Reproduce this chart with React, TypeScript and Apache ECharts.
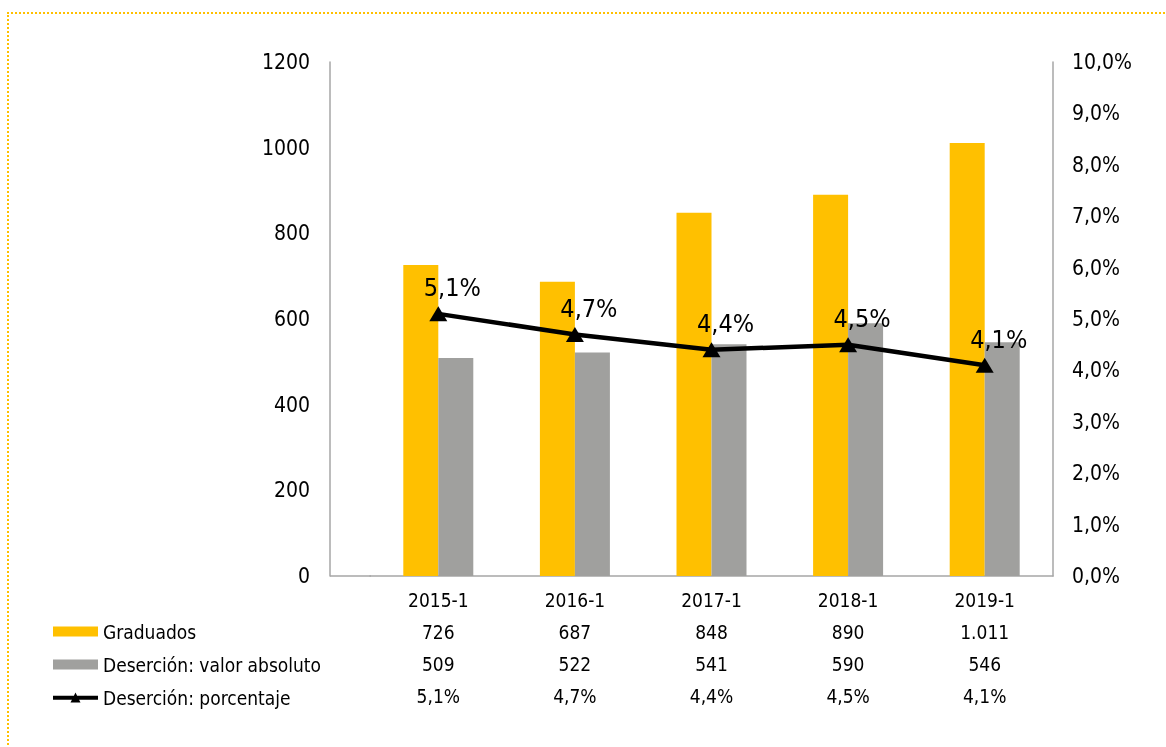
import React, { useEffect, useRef } from "react";
import * as echarts from "echarts";

const categories = ["2015-1", "2016-1", "2017-1", "2018-1", "2019-1"];
const graduados = [726, 687, 848, 890, 1011];
const desercionAbs = [509, 522, 541, 590, 546];
const desercionPct = [5.1, 4.7, 4.4, 4.5, 4.1];

const seriesNames = ["Graduados", "Deserción: valor absoluto", "Deserción: porcentaje"];

const FONT = "'Liberation Sans Narrow', 'DejaVu Sans Condensed', 'Noto Sans', sans-serif";

const LINE_ICON =
  "path://M0,4.5H29.25L31.5,0L33.75,4.5H63V10H36.5L38.5,14H24.5L26.5,10H0Z";

const fmtInt = (n: number) =>
  n >= 1000 ? `${Math.floor(n / 1000)}.${String(n % 1000).padStart(3, "0")}` : String(n);
const fmtPct = (v: number) => `${v.toFixed(1).replace(".", ",")}%`;

export default function App() {
  const ref = useRef<HTMLDivElement>(null);

  useEffect(() => {
    if (!ref.current) return;
    const chart = echarts.init(ref.current, undefined, { renderer: "svg" });
    chart.setOption({
      animation: false,
      backgroundColor: "transparent",
      textStyle: { fontFamily: FONT, color: "#000" },
      grid: { left: 370, right: 113, top: 62, bottom: 171 },
      legend: {
        orient: "vertical",
        left: 48,
        top: 616,
        itemWidth: 45,
        itemHeight: 10,
        itemGap: 12,
        data: [
          { name: seriesNames[0], icon: "rect" },
          { name: seriesNames[1], icon: "rect" },
          { name: seriesNames[2], icon: LINE_ICON, itemStyle: { color: "#000" } },
        ],
        textStyle: { fontFamily: FONT, fontSize: 19, color: "#000", lineHeight: 21 },
      },
      graphic: [
        {
          type: "line",
          shape: { x1: 330, y1: 576, x2: 371, y2: 576 },
          style: { stroke: "#a6a6a6", lineWidth: 1.5 },
          silent: true,
        },
      ],
      xAxis: {
        type: "category",
        data: categories,
        axisLine: { lineStyle: { color: "#a6a6a6", width: 1.5 } },
        axisTick: { show: false },
        axisLabel: {
          margin: 8,
          interval: 0,
          fontFamily: FONT,
          fontSize: 19,
          color: "#000",
          lineHeight: 32,
          formatter: (value: string, idx: number) =>
            `${value}\n${fmtInt(graduados[idx])}\n${fmtInt(desercionAbs[idx])}\n${fmtPct(desercionPct[idx])}`,
        },
      },
      yAxis: [
        {
          type: "value",
          min: 0,
          max: 1200,
          interval: 200,
          offset: 40,
          axisLine: { show: true, lineStyle: { color: "#a6a6a6", width: 1.5 } },
          axisTick: { show: false },
          splitLine: { show: false },
          axisLabel: {
            margin: 20,
            fontFamily: FONT,
            fontSize: 21,
            color: "#000",
            formatter: (v: number) => String(v),
          },
        },
        {
          type: "value",
          min: 0,
          max: 10,
          interval: 1,
          position: "right",
          axisLine: { show: true, lineStyle: { color: "#a6a6a6", width: 1.5 } },
          axisTick: { show: false },
          splitLine: { show: false },
          axisLabel: {
            margin: 19,
            fontFamily: FONT,
            fontSize: 21,
            color: "#000",
            formatter: (v: number) => fmtPct(v),
          },
        },
      ],
      series: [
        {
          name: seriesNames[0],
          type: "bar",
          data: graduados,
          barWidth: 35,
          barGap: "0%",
          itemStyle: { color: "#FFC000" },
        },
        {
          name: seriesNames[1],
          type: "bar",
          data: desercionAbs,
          barWidth: 35,
          barGap: "0%",
          itemStyle: { color: "#A0A09E" },
        },
        {
          name: seriesNames[2],
          type: "line",
          yAxisIndex: 1,
          data: desercionPct,
          symbol: "triangle",
          symbolSize: [18, 15],
          lineStyle: { color: "#000", width: 4.5 },
          itemStyle: { color: "#000" },
          label: {
            show: true,
            position: "top",
            offset: [14, -1],
            fontFamily: FONT,
            fontSize: 25,
            color: "#000",
            formatter: (p: any) => fmtPct(p.value),
          },
          z: 5,
        },
      ],
    });
    return () => chart.dispose();
  }, []);

  return (
    <>
      <div
        style={{
          position: "fixed",
          left: 7,
          top: 12,
          width: 1250,
          height: 800,
          border: "2px dotted #FFC000",
          boxSizing: "border-box",
        }}
      />
      <div ref={ref} style={{ position: "fixed", left: 0, top: 0, width: 1166, height: 747 }} />
    </>
  );
}
